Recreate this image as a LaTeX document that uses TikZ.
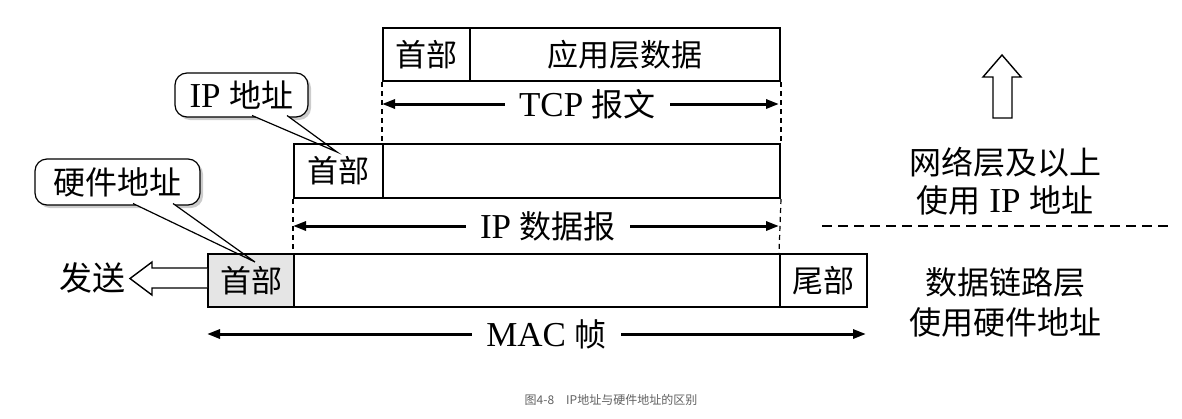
\documentclass[tikz,border=0pt]{standalone}
\usepackage{fontspec}
\setmainfont{Liberation Serif}
\newfontfamily\cjk{Noto Sans CJK SC}
\usetikzlibrary{arrows.meta,shadows}
\newcommand\zh[1]{{\cjk\fontsize{32}{38}\selectfont #1}}
\tikzset{
  seg/.style={draw,line width=2pt,fill=white,inner sep=0pt,anchor=north west,
    font=\cjk\fontsize{31}{36}\selectfont},
  dim/.style={{Triangle[length=13pt,width=9pt]}-{Triangle[length=13pt,width=9pt]},line width=3pt},
  dimlabel/.style={fill=white,inner xsep=14pt,font=\fontsize{35}{40}\selectfont},
  guide/.style={line width=1.2pt,dash pattern=on 5pt off 4pt},
  bubble/.style={draw,line width=1.2pt,rounded corners=12pt,fill=white,inner sep=0pt,
    drop shadow={shadow xshift=3pt,shadow yshift=-3pt,fill=gray!80},
    font=\fontsize{35}{40}\selectfont},
  hollow/.style={draw,line width=1.4pt,fill=white,line join=miter},
  sidetext/.style={align=center,font=\fontsize{35}{38}\selectfont},
}
\begin{document}
\begin{tikzpicture}[x=1pt,y=-1pt]
\useasboundingbox (0,0) rectangle (1182,418);
% callouts
\node[bubble,minimum width=165pt,minimum height=46pt] (hwaddr) at (117.5,182) {\zh{硬件地址}};
\node[bubble,minimum width=133pt,minimum height=44pt] (ipaddr) at (241.5,95) {IP \zh{地址}};
\coordinate (hwtip) at (255,262);
\coordinate (hwb1) at (133,203.5);
\coordinate (hwb2) at (173,203.5);
\coordinate (iptip) at (337,152);
\coordinate (ipb1) at (252,115.5);
\coordinate (ipb2) at (287,115.5);
\fill[white] (hwb1) -- (hwtip) -- (hwb2) -- cycle;
\fill[white] (ipb1) -- (iptip) -- (ipb2) -- cycle;
% TCP segment
\node[seg,minimum width=87pt,minimum height=53pt] (tcph) at (382,27) {首部};
\node[seg,minimum width=310pt,minimum height=53pt] (tcpd) at (469,27) {应用层数据};
% IP datagram
\node[seg,minimum width=89pt,minimum height=54pt] (iph) at (293,143) {首部};
\node[seg,minimum width=397pt,minimum height=54pt] (ipd) at (382,143) {};
% MAC frame
\node[seg,fill=gray!20,minimum width=86pt,minimum height=53pt] (mach) at (207,253) {首部};
\node[seg,minimum width=486pt,minimum height=53pt] (macd) at (293,253) {};
\node[seg,minimum width=87pt,minimum height=53pt] (mact) at (779,253) {尾部};
% pointers
\draw[line width=1.2pt] (hwb1) -- (hwtip) -- (hwb2);
\draw[line width=1.2pt] (ipb1) -- (iptip) -- (ipb2);
% guides
\draw[guide] (tcph.south west) -- (ipd.north west);
\draw[guide] (tcpd.south east) -- (ipd.north east);
\draw[guide] (iph.south west) -- (macd.north west);
\draw[guide] (ipd.south east) -- (mact.north west);
% lengths
\coordinate (tcpL) at (382,104);
\coordinate (tcpR) at (779,104);
\coordinate (ipL) at (293,226);
\coordinate (ipR) at (779,226);
\coordinate (macL) at (207,334);
\coordinate (macR) at (866,334);
\draw[dim] (tcpL) -- node[dimlabel,xshift=7pt] (tcplabel) {TCP \zh{报文}} (tcpR);
\draw[dim] (ipL) -- node[dimlabel,xshift=12pt] (iplabel) {IP \zh{数据报}} (ipR);
\draw[dim] (macL) -- node[dimlabel,xshift=10pt] (maclabel) {MAC \zh{帧}} (macR);
% send
\node[font=\cjk\fontsize{33}{36}\selectfont] (send) at (92,278) {发送};
\draw[hollow] (207,268) -- (152,268) -- (152,262) -- (130,278.5) -- (152,295) -- (152,288) -- (207,288);
% right side
\draw[hollow] (993,118) -- (993,77) -- (983,77) -- (1002,55) -- (1021,77) -- (1012,77) -- (1012,118) -- cycle;
\node[sidetext] (netlayer) at (1005,181) {\zh{网络层及以上}\\\zh{使用} IP \zh{地址}};
\draw[line width=2pt,dash pattern=on 10pt off 6pt] (822,226) -- (1170,226);
\node[sidetext,font=\fontsize{35}{40}\selectfont] (linklayer) at (1005,302) {\zh{数据链路层}\\\zh{使用硬件地址}};
% caption
\node[font=\cjk\fontsize{12}{14}\selectfont,text=gray!75!black] (caption) at (611,400) {图4-8\quad IP地址与硬件地址的区别};
\end{tikzpicture}
\end{document}
